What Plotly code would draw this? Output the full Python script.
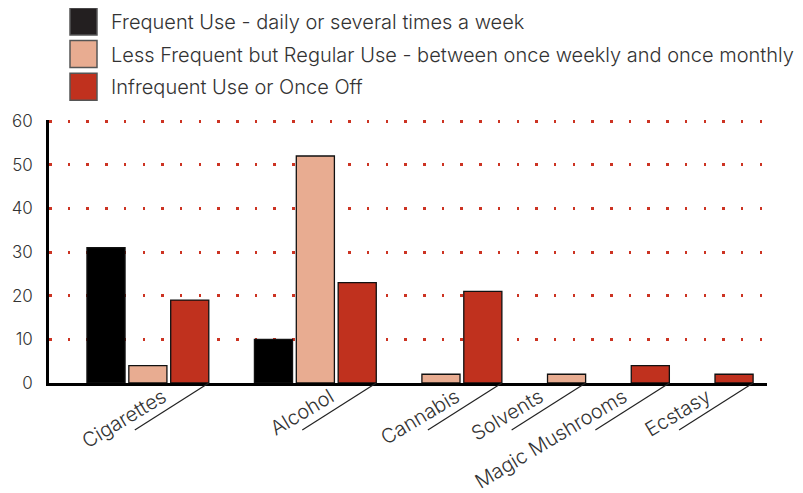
import plotly.graph_objects as go

categories = ["Cigarettes", "Alcohol", "Cannabis", "Solvents", "Magic Mushrooms", "Ecstasy"]
series_names = [
    "Frequent Use - daily or several times a week",
    "Less Frequent but Regular Use - between once weekly and once monthly",
    "Infrequent Use or Once Off",
]
frequent = [31, 10, 0, 0, 0, 0]
less_frequent = [4, 52, 2, 2, 0, 0]
infrequent = [19, 23, 21, 0, 4, 2]
y_tick_values = [0, 10, 20, 30, 40, 50, 60]

series = [frequent, less_frequent, infrequent]
bar_colors = ["#000000", "#e8ac91", "#c0311e"]
legend_colors = ["#231f20", "#e8ac91", "#c0311e"]

FONT = "Inter"
# page body has an 8px margin, so figure is 8px smaller and shifted
OFF = 8
W, H = 803 - OFF, 493 - OFF
ML, MR, MT, MB = 49 - OFF, 36, 120 - OFF, 110
PW, PH = W - ML - MR, H - MT - MB
SLOT_PX = 41.87
Y_TOP = 60.25


def xp(px):
    # px in screen coordinates
    return (px - OFF - ML) / PW


def yp(py):
    return (H - MB - (py - OFF)) / PH


# assign slots: non-zero bars only, one empty slot between categories
xs = [[] for _ in series]
ys = [[] for _ in series]
group_end = []
slot = 0
for ci, cat in enumerate(categories):
    last = None
    for si, s in enumerate(series):
        if s[ci] > 0:
            xs[si].append(slot)
            ys[si].append(s[ci])
            last = slot
            slot += 1
    group_end.append(last)
    slot += 1

BW = 0.91
fig = go.Figure()
for si in range(len(series)):
    fig.add_trace(go.Bar(
        x=xs[si], y=ys[si], width=BW, name=series_names[si],
        marker=dict(color=bar_colors[si], line=dict(color="#111111", width=1.3)),
        showlegend=False,
    ))

x_range = [-57 / SLOT_PX, -57 / SLOT_PX + PW / SLOT_PX]

tickvals = [e + BW / 2 - 46 / SLOT_PX for e in group_end]

shapes = []
for e in group_end:
    xr = e + BW / 2
    shapes.append(dict(type="line", xref="x", yref="paper",
                       x0=xr, y0=0, x1=xr - 74 / SLOT_PX, y1=-47 / PH,
                       line=dict(color="#222222", width=1.2)))

annotations = []
for i, name in enumerate(series_names):
    top = 8 + 32.6 * i
    shapes.append(dict(type="rect", xref="paper", yref="paper",
                       x0=xp(70), x1=xp(97), y0=yp(top + 27), y1=yp(top),
                       fillcolor=legend_colors[i], line=dict(color="#555555", width=1.5)))
    annotations.append(dict(xref="paper", yref="paper", x=xp(109), y=yp(top + 14),
                            xanchor="left", yanchor="middle", showarrow=False,
                            text=name, font=dict(size=20, color="#333333",
                                                 family=FONT, weight=300)))

fig.update_layout(
    width=W, height=H,
    margin=dict(l=ML, r=MR, t=MT, b=MB),
    plot_bgcolor="white", paper_bgcolor="white",
    barmode="overlay",
    font=dict(family=FONT, size=17, color="#333333"),
    shapes=shapes, annotations=annotations,
    xaxis=dict(range=x_range, showgrid=False, zeroline=False, showline=True,
               linecolor="#000000", linewidth=2.5, ticks="",
               tickmode="array", tickvals=tickvals, ticktext=categories,
               tickangle=-31, automargin=False, ticklabelstandoff=-8,
               tickfont=dict(size=20, color="#333333", family=FONT, weight=300)),
    yaxis=dict(range=[0, Y_TOP], tickvals=y_tick_values, showgrid=True,
               gridcolor="#cc3322", gridwidth=2.5, griddash="2.5px,16.2px",
               zeroline=False, showline=True, linecolor="#000000", linewidth=2.5,
               ticks="", ticklabelstandoff=10, automargin=False,
               tickfont=dict(size=17, color="#333333", family=FONT, weight=300)),
)

fig.write_html("out.html")
